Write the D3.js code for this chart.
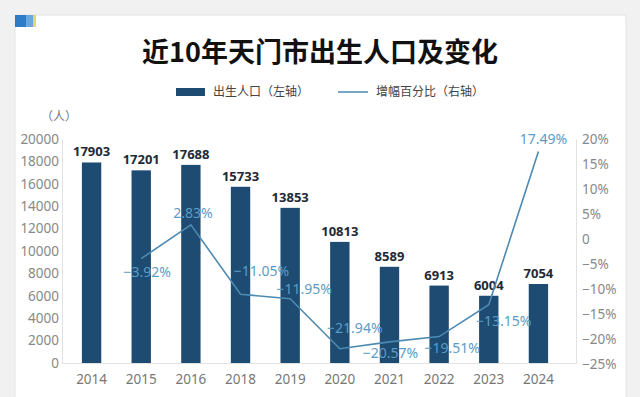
<!DOCTYPE html>
<html><head><meta charset="utf-8">
<script src="https://cdn.jsdelivr.net/npm/d3@7"></script>
<style>
html,body{margin:0;padding:0;background:#f1f1f1;}
svg{display:block;font-family:"Noto Sans CJK SC","Noto Sans",sans-serif;}
</style></head>
<body>
<svg id="c" width="640" height="397"></svg>
<script>
const years = ["2014","2015","2016","2018","2019","2020","2021","2022","2023","2024"];
const births = [17903,17201,17688,15733,13853,10813,8589,6913,6004,7054];
const growth = [null,-3.92,2.83,-11.05,-11.95,-21.94,-20.57,-19.51,-13.15,17.49];
const leftTicks = [0,2000,4000,6000,8000,10000,12000,14000,16000,18000,20000];
const rightTicks = [-25,-20,-15,-10,-5,0,5,10,15,20];

// label placement (layout only): [dx, dy]
const pctLabelOffset = [null,[6,13],[2,-12],[21,-23],[14,-10],[15,-21],[1,11],[13,11],[15,16],[5,-13]];

const svg = d3.select("#c");
// card
svg.append("rect").attr("x",15).attr("y",15).attr("width",611).attr("height",390)
  .attr("rx",3).attr("fill","#fff").attr("stroke","#e4e4e4");
svg.append("rect").attr("x",15).attr("y",15).attr("width",11).attr("height",12).attr("fill","#2f7cc6");
svg.append("rect").attr("x",26).attr("y",15).attr("width",7).attr("height",12).attr("fill","#6aa8dc");
svg.append("rect").attr("x",33).attr("y",15).attr("width",3).attr("height",12).attr("fill","#e8d27a");

svg.append("text").attr("x",320).attr("y",62).attr("text-anchor","middle")
  .attr("font-size",27).attr("font-weight","bold").attr("fill","#111").text("近10年天门市出生人口及变化");

// legend
svg.append("rect").attr("x",176).attr("y",88).attr("width",29).attr("height",8).attr("fill","#1d4b72");
svg.append("text").attr("x",213).attr("y",96).attr("font-size",12).attr("fill","#444").text("出生人口（左轴）");
svg.append("line").attr("x1",338).attr("x2",368).attr("y1",92).attr("y2",92).attr("stroke","#4d8ab2").attr("stroke-width",1.5);
svg.append("text").attr("x",376).attr("y",96).attr("font-size",12).attr("fill","#444").text("增幅百分比（右轴）");

svg.append("text").attr("x",59).attr("y",121).attr("text-anchor","middle").attr("font-size",12).attr("fill","#777").text("（人）");

const pLeft = 62, pRight = 576, pTop = 139, pBottom = 363;
const x = d3.scaleBand().domain(years).range([67,563]).paddingInner(0.61).paddingOuter(0.3);
const y = d3.scaleLinear().domain([0,20000]).range([pBottom,pTop]);
const y2 = d3.scaleLinear().domain([-25,20]).range([pBottom+1,pTop]);

// axes
const gl = svg.append("g").attr("transform",`translate(${pLeft},0)`)
  .call(d3.axisLeft(y).tickValues(leftTicks).tickSize(0).tickPadding(3).tickFormat(d3.format("d")));
gl.select(".domain").attr("stroke","#e2e2e2");
gl.selectAll("text").attr("font-size",13.5).attr("fill","#888").attr("font-family","Noto Sans, sans-serif");

const gr = svg.append("g").attr("transform",`translate(${pRight},0)`)
  .call(d3.axisRight(y2).tickValues(rightTicks).tickSize(0).tickPadding(6)
  .tickFormat(d => d===0 ? "0" : (d<0?"\u2212"+(-d):d)+"%"));
gr.select(".domain").attr("stroke","#e2e2e2");
gr.selectAll("text").attr("font-size",13.5).attr("fill","#888").attr("font-family","Noto Sans, sans-serif");

const gb = svg.append("g").attr("transform",`translate(0,${pBottom})`)
  .call(d3.axisBottom(x).tickSize(0).tickPadding(11));
gb.select(".domain").remove();
svg.append("line").attr("x1",pLeft).attr("x2",pRight).attr("y1",pBottom+0.5).attr("y2",pBottom+0.5).attr("stroke","#e2e2e2");
gb.selectAll("text").attr("font-size",13.5).attr("fill","#777").attr("font-family","Noto Sans, sans-serif");

// bars
svg.selectAll(".bar").data(births).join("rect").attr("class","bar")
  .attr("x",(d,i)=>x(years[i])).attr("width",x.bandwidth())
  .attr("y",d=>y(d)).attr("height",d=>pBottom-y(d)).attr("fill","#1d4b72");
svg.selectAll(".blab").data(births).join("text").attr("class","blab")
  .attr("x",(d,i)=>x(years[i])+x.bandwidth()/2).attr("y",d=>y(d)-6)
  .attr("text-anchor","middle").attr("font-size",13).attr("font-weight","bold")
  .attr("fill","#1e2a36").attr("font-family","Noto Sans, sans-serif").text(d=>d);

// line
const pts = growth.map((g,i)=>({g,i})).filter(p=>p.g!==null);
const cx = i => x(years[i])+x.bandwidth()/2;
svg.append("path").datum(pts).attr("fill","none").attr("stroke","#4d8ab2").attr("stroke-width",1.6)
  .attr("d",d3.line().x(p=>cx(p.i)).y(p=>y2(p.g)));
svg.selectAll(".plab").data(pts).join("text").attr("class","plab")
  .attr("x",p=>cx(p.i)+pctLabelOffset[p.i][0]).attr("y",p=>y2(p.g)+pctLabelOffset[p.i][1]+5)
  .attr("text-anchor","middle").attr("font-size",14).attr("fill","#5b9cc6")
  .attr("font-family","Noto Sans, sans-serif")
  .text(p=>(p.g<0?"\u2212"+(-p.g).toFixed(2):p.g.toFixed(2))+"%");
</script>
</body></html>
